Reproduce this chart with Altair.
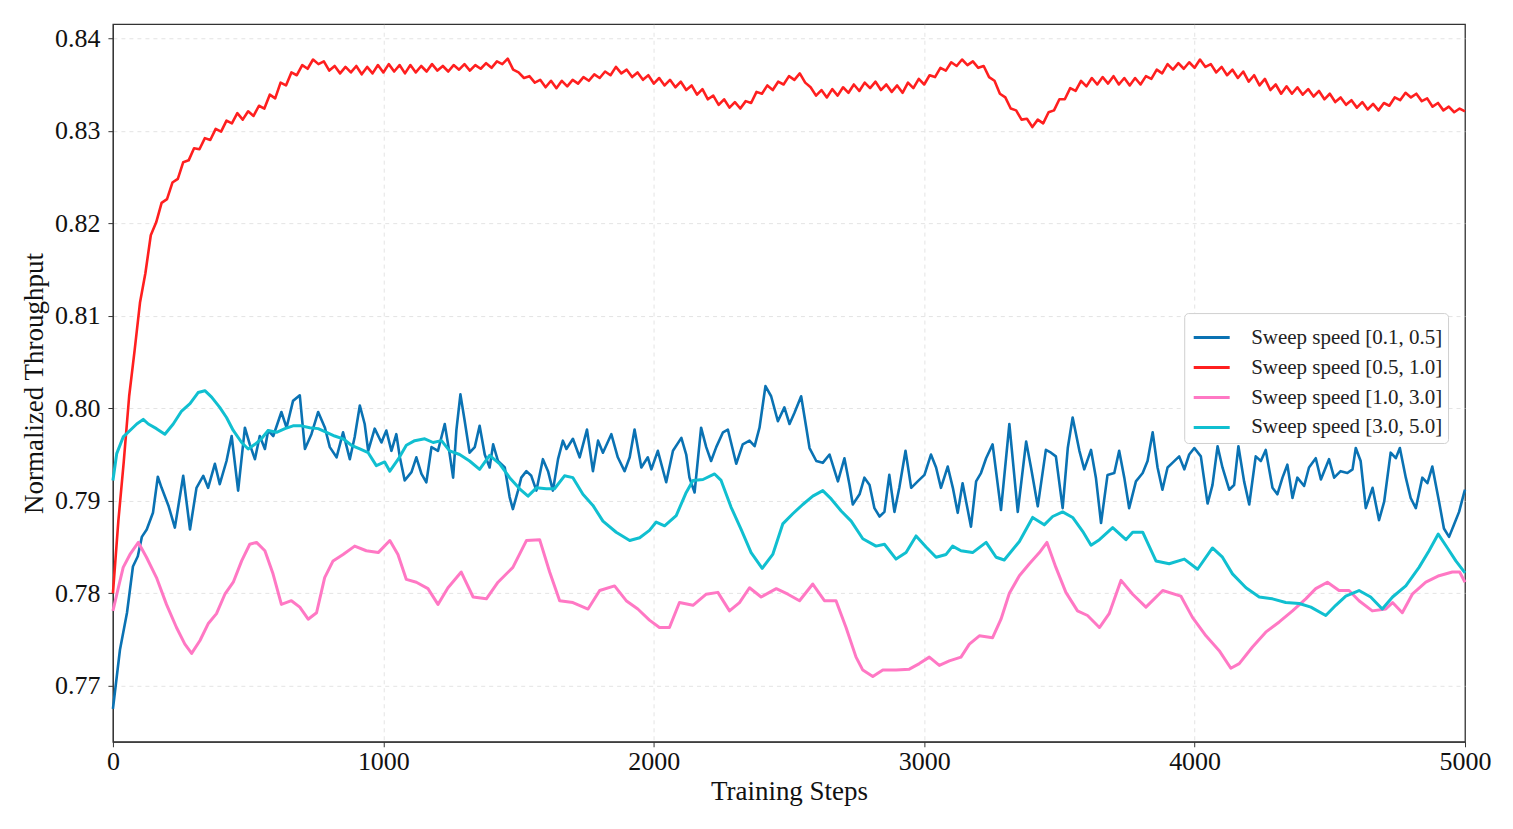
import altair as alt
import pandas as pd

SERIES = ["Sweep speed [0.1, 0.5]", "Sweep speed [0.5, 1.0]",
          "Sweep speed [1.0, 3.0]", "Sweep speed [3.0, 5.0]"]
COLORS = ["#0a72b3", "#ff1f1f", "#ff78c4", "#10bfd0"]

X_TICKS = [0, 1000, 2000, 3000, 4000, 5000]
Y_TICKS = [0.77, 0.78, 0.79, 0.80, 0.81, 0.82, 0.83, 0.84]

# ---- Sweep speed [0.1, 0.5] (blue)
blue_steps = [0, 26, 52, 74, 92, 107, 125, 148, 166, 180, 205, 229, 260, 285, 309, 334, 352, 377, 395, 420,
              439, 463, 488, 506, 525, 543, 562, 574, 593, 623, 642, 666, 691, 710, 734, 759, 784, 802, 827, 851,
              876, 894, 913, 931, 944, 968, 993, 1011, 1030, 1048, 1061, 1079, 1104, 1122, 1141, 1159, 1178, 1202, 1227, 1245,
              1258, 1270, 1285, 1301, 1319, 1338, 1356, 1375, 1393, 1406, 1424, 1449, 1467, 1479, 1498, 1510, 1529, 1547, 1566, 1590,
              1609, 1627, 1646, 1664, 1677, 1701, 1726, 1753, 1775, 1794, 1812, 1843, 1867, 1892, 1911, 1929, 1954, 1978, 1991, 2015,
              2046, 2071, 2102, 2120, 2132, 2151, 2175, 2194, 2212, 2231, 2256, 2274, 2305, 2329, 2354, 2373, 2391, 2413, 2434, 2459,
              2483, 2502, 2520, 2545, 2564, 2576, 2601, 2625, 2650, 2681, 2705, 2724, 2736, 2761, 2779, 2798, 2816, 2835, 2853, 2871,
              2890, 2908, 2931, 2952, 2976, 3001, 3025, 3044, 3062, 3087, 3106, 3124, 3142, 3173, 3192, 3210, 3229, 3253, 3284, 3315,
              3346, 3377, 3395, 3420, 3450, 3469, 3487, 3512, 3531, 3549, 3574, 3592, 3617, 3635, 3654, 3678, 3703, 3721, 3740, 3758,
              3783, 3808, 3826, 3845, 3863, 3881, 3900, 3918, 3943, 3962, 3980, 3999, 4023, 4048, 4066, 4085, 4103, 4128, 4146, 4162,
              4183, 4202, 4226, 4245, 4263, 4288, 4306, 4325, 4343, 4362, 4380, 4405, 4423, 4448, 4467, 4497, 4516, 4540, 4565, 4584,
              4596, 4614, 4633, 4658, 4682, 4701, 4725, 4744, 4759, 4781, 4799, 4818, 4842, 4861, 4879, 4904, 4922, 4941, 4959, 4978,
              4996, 5000]
blue_vals = [0.7675, 0.7739, 0.7779, 0.7829, 0.7840, 0.7861, 0.7869, 0.7887, 0.7926, 0.7914, 0.7895, 0.7871, 0.7927, 0.7869, 0.7914, 0.7927, 0.7914, 0.7940, 0.7918, 0.7943,
             0.7970, 0.7911, 0.7979, 0.7961, 0.7945, 0.7970, 0.7956, 0.7976, 0.7970, 0.7996, 0.7979, 0.8008, 0.8014, 0.7956, 0.7972, 0.7996, 0.7979, 0.7958, 0.7947, 0.7974,
             0.7945, 0.7969, 0.8003, 0.7983, 0.7954, 0.7978, 0.7963, 0.7976, 0.7954, 0.7972, 0.7947, 0.7922, 0.7931, 0.7947, 0.7929, 0.7920, 0.7958, 0.7954, 0.7983, 0.7951,
             0.7925, 0.7976, 0.8015, 0.7986, 0.7952, 0.7958, 0.7981, 0.7950, 0.7936, 0.7961, 0.7943, 0.7936, 0.7904, 0.7891, 0.7911, 0.7925, 0.7932, 0.7927, 0.7911, 0.7945,
             0.7932, 0.7911, 0.7945, 0.7965, 0.7956, 0.7967, 0.7947, 0.7977, 0.7932, 0.7965, 0.7952, 0.7972, 0.7947, 0.7932, 0.7947, 0.7977, 0.7936, 0.7947, 0.7934, 0.7954,
             0.7920, 0.7954, 0.7968, 0.7950, 0.7925, 0.7909, 0.7979, 0.7958, 0.7943, 0.7958, 0.7974, 0.7977, 0.7940, 0.7961, 0.7965, 0.7959, 0.7979, 0.8024, 0.8013, 0.7986,
             0.8001, 0.7983, 0.7995, 0.8013, 0.7979, 0.7957, 0.7943, 0.7941, 0.7950, 0.7921, 0.7946, 0.7917, 0.7896, 0.7907, 0.7925, 0.7917, 0.7892, 0.7883, 0.7888, 0.7928,
             0.7888, 0.7914, 0.7954, 0.7914, 0.7921, 0.7928, 0.7950, 0.7936, 0.7914, 0.7937, 0.7914, 0.7887, 0.7919, 0.7872, 0.7921, 0.7930, 0.7946, 0.7961, 0.7890, 0.7983,
             0.7888, 0.7964, 0.7936, 0.7894, 0.7955, 0.7952, 0.7948, 0.7892, 0.7957, 0.7990, 0.7954, 0.7934, 0.7955, 0.7925, 0.7876, 0.7928, 0.7930, 0.7954, 0.7925, 0.7892,
             0.7921, 0.7930, 0.7943, 0.7974, 0.7936, 0.7912, 0.7936, 0.7941, 0.7948, 0.7934, 0.7950, 0.7957, 0.7948, 0.7897, 0.7917, 0.7959, 0.7936, 0.7912, 0.7917, 0.7959,
             0.7921, 0.7896, 0.7948, 0.7943, 0.7955, 0.7914, 0.7907, 0.7925, 0.7939, 0.7903, 0.7925, 0.7916, 0.7936, 0.7946, 0.7923, 0.7945, 0.7925, 0.7932, 0.7930, 0.7934,
             0.7957, 0.7943, 0.7892, 0.7914, 0.7879, 0.7899, 0.7952, 0.7946, 0.7957, 0.7925, 0.7903, 0.7892, 0.7925, 0.7919, 0.7937, 0.7899, 0.7870, 0.7861, 0.7874, 0.7888,
             0.7908, 0.7912]

# ---- Sweep speed [0.5, 1.0] (red), sampled every 20 steps
red_steps = list(range(0, 5001, 20))
red_vals = [0.7800, 0.7878, 0.7942, 0.8013, 0.8062, 0.8114, 0.8146, 0.8187, 0.8201, 0.8222,
            0.8226, 0.8244, 0.8248, 0.8266, 0.8268, 0.8281, 0.8280, 0.8292, 0.8290, 0.8302,
            0.8299, 0.8311, 0.8308, 0.8319, 0.8312, 0.8321, 0.8316, 0.8327, 0.8324, 0.8339,
            0.8335, 0.8352, 0.8349, 0.8363, 0.8360, 0.8371, 0.8367, 0.8377, 0.8372, 0.8375,
            0.8365, 0.8370, 0.8362, 0.8369, 0.8363, 0.8370, 0.8361, 0.8369, 0.8362, 0.8371,
            0.8363, 0.8372, 0.8364, 0.8371, 0.8362, 0.8371, 0.8363, 0.8370, 0.8364, 0.8372,
            0.8365, 0.8370, 0.8364, 0.8371, 0.8366, 0.8372, 0.8365, 0.8371, 0.8367, 0.8373,
            0.8368, 0.8375, 0.8372, 0.8378, 0.8366, 0.8363, 0.8357, 0.8359, 0.8352, 0.8355,
            0.8347, 0.8354, 0.8346, 0.8354, 0.8348, 0.8355, 0.8351, 0.8358, 0.8354, 0.8361,
            0.8357, 0.8364, 0.8360, 0.8369, 0.8362, 0.8366, 0.8358, 0.8363, 0.8355, 0.8360,
            0.8351, 0.8357, 0.8349, 0.8355, 0.8347, 0.8353, 0.8344, 0.8349, 0.8339, 0.8345,
            0.8334, 0.8338, 0.8328, 0.8334, 0.8325, 0.8331, 0.8324, 0.8332, 0.8330, 0.8342,
            0.8340, 0.8349, 0.8344, 0.8353, 0.8350, 0.8359, 0.8355, 0.8362, 0.8352, 0.8347,
            0.8338, 0.8344, 0.8336, 0.8345, 0.8338, 0.8347, 0.8341, 0.8350, 0.8343, 0.8352,
            0.8346, 0.8353, 0.8344, 0.8350, 0.8342, 0.8349, 0.8341, 0.8352, 0.8346, 0.8356,
            0.8350, 0.8360, 0.8358, 0.8368, 0.8365, 0.8374, 0.8370, 0.8377, 0.8371, 0.8375,
            0.8368, 0.8370, 0.8358, 0.8354, 0.8340, 0.8336, 0.8324, 0.8322, 0.8312, 0.8313,
            0.8304, 0.8312, 0.8308, 0.8320, 0.8322, 0.8334, 0.8334, 0.8346, 0.8343, 0.8354,
            0.8348, 0.8357, 0.8350, 0.8358, 0.8351, 0.8359, 0.8350, 0.8357, 0.8349, 0.8357,
            0.8350, 0.8359, 0.8356, 0.8366, 0.8362, 0.8372, 0.8366, 0.8373, 0.8367, 0.8374,
            0.8368, 0.8377, 0.8369, 0.8372, 0.8363, 0.8369, 0.8360, 0.8366, 0.8357, 0.8364,
            0.8353, 0.8360, 0.8349, 0.8356, 0.8344, 0.8350, 0.8340, 0.8348, 0.8340, 0.8347,
            0.8339, 0.8345, 0.8337, 0.8343, 0.8334, 0.8340, 0.8331, 0.8336, 0.8328, 0.8333,
            0.8325, 0.8331, 0.8323, 0.8329, 0.8322, 0.8330, 0.8327, 0.8336, 0.8333, 0.8341,
            0.8336, 0.8340, 0.8332, 0.8335, 0.8326, 0.8330, 0.8322, 0.8326, 0.8320, 0.8324,
            0.8321]

# ---- Sweep speed [1.0, 3.0] (pink)
pink_steps = [0, 20, 38, 63, 94, 124, 161, 198, 235, 266, 291, 322, 352, 383, 414, 445, 476, 506, 531, 562,
              592, 623, 660, 691, 722, 753, 783, 814, 851, 894, 937, 981, 1024, 1054, 1085, 1122, 1165, 1202, 1239, 1288,
              1332, 1381, 1424, 1479, 1529, 1578, 1615, 1652, 1701, 1757, 1800, 1855, 1898, 1941, 1984, 2021, 2058, 2095, 2145, 2194,
              2237, 2280, 2317, 2354, 2397, 2453, 2496, 2539, 2588, 2631, 2674, 2711, 2748, 2773, 2810, 2847, 2896, 2945, 2982, 3019,
              3056, 3093, 3136, 3167, 3204, 3253, 3284, 3315, 3352, 3389, 3426, 3454, 3487, 3524, 3567, 3604, 3648, 3684, 3728, 3771,
              3820, 3882, 3949, 3992, 4042, 4091, 4134, 4165, 4214, 4263, 4313, 4362, 4411, 4448, 4491, 4534, 4571, 4608, 4657, 4707,
              4732, 4768, 4805, 4855, 4904, 4953, 4980, 5000]
pink_vals = [0.7781, 0.7806, 0.7828, 0.7842, 0.7855, 0.7839, 0.7817, 0.7788, 0.7763, 0.7745, 0.7735, 0.7749, 0.7767, 0.7778, 0.7799, 0.7812, 0.7835, 0.7853, 0.7855, 0.7846,
             0.7821, 0.7788, 0.7792, 0.7785, 0.7772, 0.7779, 0.7817, 0.7835, 0.7842, 0.7851, 0.7846, 0.7844, 0.7857, 0.7842, 0.7815, 0.7812, 0.7805, 0.7788, 0.7806, 0.7823,
             0.7796, 0.7794, 0.7812, 0.7828, 0.7857, 0.7858, 0.7823, 0.7792, 0.7790, 0.7783, 0.7803, 0.7808, 0.7792, 0.7783, 0.7771, 0.7763, 0.7763, 0.7790, 0.7787, 0.7799,
             0.7801, 0.7781, 0.7790, 0.7806, 0.7796, 0.7805, 0.7799, 0.7792, 0.7810, 0.7792, 0.7792, 0.7763, 0.7731, 0.7717, 0.7710, 0.7717, 0.7717, 0.7718, 0.7724, 0.7731,
             0.7722, 0.7727, 0.7731, 0.7745, 0.7754, 0.7752, 0.7772, 0.7800, 0.7819, 0.7832, 0.7844, 0.7855, 0.7828, 0.7801, 0.7781, 0.7776, 0.7763, 0.7778, 0.7814, 0.7799,
             0.7785, 0.7803, 0.7797, 0.7774, 0.7754, 0.7738, 0.7719, 0.7724, 0.7742, 0.7758, 0.7769, 0.7781, 0.7794, 0.7805, 0.7812, 0.7803, 0.7803, 0.7792, 0.7781, 0.7783,
             0.7790, 0.7779, 0.7799, 0.7812, 0.7819, 0.7823, 0.7823, 0.7812]

# ---- Sweep speed [3.0, 5.0] (cyan)
cyan_steps = [0, 14, 38, 63, 88, 112, 131, 161, 192, 223, 254, 285, 315, 340, 365, 395, 420, 445, 476, 500,
              525, 549, 574, 605, 636, 666, 697, 728, 759, 790, 820, 851, 882, 913, 944, 974, 1005, 1024, 1055, 1085,
              1116, 1153, 1184, 1215, 1245, 1282, 1319, 1356, 1393, 1430, 1467, 1504, 1535, 1566, 1603, 1633, 1670, 1701, 1738, 1775,
              1812, 1861, 1911, 1948, 1984, 2009, 2040, 2083, 2120, 2145, 2182, 2225, 2249, 2286, 2323, 2360, 2401, 2440, 2477, 2514,
              2551, 2588, 2625, 2656, 2693, 2730, 2773, 2822, 2853, 2896, 2933, 2970, 3007, 3044, 3081, 3105, 3136, 3179, 3229, 3266,
              3296, 3352, 3401, 3444, 3475, 3512, 3549, 3586, 3617, 3648, 3697, 3746, 3771, 3808, 3857, 3906, 3962, 4011, 4066, 4103,
              4140, 4190, 4239, 4288, 4337, 4387, 4430, 4485, 4522, 4559, 4608, 4651, 4694, 4732, 4781, 4830, 4867, 4901, 4935, 4966,
              5000]
cyan_vals = [0.7922, 0.7951, 0.7969, 0.7976, 0.7983, 0.7988, 0.7983, 0.7978, 0.7972, 0.7983, 0.7997, 0.8005, 0.8017, 0.8019, 0.8012, 0.8001, 0.7990, 0.7976, 0.7963, 0.7956,
             0.7961, 0.7967, 0.7976, 0.7974, 0.7978, 0.7981, 0.7981, 0.7979, 0.7978, 0.7974, 0.7970, 0.7967, 0.7960, 0.7956, 0.7952, 0.7938, 0.7942, 0.7932, 0.7945, 0.7960,
             0.7965, 0.7967, 0.7963, 0.7965, 0.7954, 0.7950, 0.7943, 0.7934, 0.7949, 0.7940, 0.7925, 0.7913, 0.7905, 0.7914, 0.7913, 0.7913, 0.7927, 0.7925, 0.7907, 0.7895,
             0.7878, 0.7866, 0.7857, 0.7860, 0.7868, 0.7877, 0.7873, 0.7884, 0.7909, 0.7922, 0.7923, 0.7929, 0.7922, 0.7893, 0.7869, 0.7844, 0.7827, 0.7842, 0.7875, 0.7886,
             0.7896, 0.7905, 0.7911, 0.7902, 0.7889, 0.7878, 0.7859, 0.7851, 0.7853, 0.7837, 0.7844, 0.7862, 0.7850, 0.7839, 0.7842, 0.7851, 0.7846, 0.7844, 0.7855, 0.7839,
             0.7836, 0.7856, 0.7882, 0.7874, 0.7883, 0.7888, 0.7882, 0.7867, 0.7852, 0.7858, 0.7871, 0.7858, 0.7866, 0.7866, 0.7835, 0.7832, 0.7837, 0.7826, 0.7849, 0.7839,
             0.7821, 0.7806, 0.7796, 0.7794, 0.7790, 0.7789, 0.7785, 0.7776, 0.7787, 0.7797, 0.7803, 0.7796, 0.7783, 0.7796, 0.7808, 0.7828, 0.7846, 0.7864, 0.7849, 0.7835,
             0.7822]

series_data = [(SERIES[0], blue_steps, blue_vals, 2.6),
               (SERIES[1], red_steps, red_vals, 2.6),
               (SERIES[2], pink_steps, pink_vals, 3.0),
               (SERIES[3], cyan_steps, cyan_vals, 3.0)]

FONT = "Liberation Serif"
GRID_COLOR = {"condition": {"test": "datum.value == 0 || datum.value == 5000", "value": "transparent"},
              "value": "#dcdcdc"}

x_enc = alt.X("step:Q",
              scale=alt.Scale(domain=[0, 5000], nice=False, zero=False),
              axis=alt.Axis(values=X_TICKS, format="d", title="Training Steps",
                            labelFontSize=26, titleFontSize=27, labelPadding=2,
                            titlePadding=4, tickSize=5, grid=True, labelFlush=False,
                            gridColor=GRID_COLOR))
y_enc = alt.Y("value:Q",
              scale=alt.Scale(domain=[0.76395, 0.84151], nice=False, zero=False),
              axis=alt.Axis(values=Y_TICKS, format=".2f", title="Normalized Throughput",
                            labelFontSize=26, titleFontSize=27, labelPadding=8,
                            titlePadding=6, tickSize=5, grid=True, labelFlush=False))
color_enc = alt.Color("series:N",
                      scale=alt.Scale(domain=SERIES, range=COLORS),
                      legend=alt.Legend(orient="none", legendX=1072, legendY=289, title=None,
                                        symbolType="stroke", symbolSize=1296, symbolStrokeWidth=3,
                                        symbolOffset=3, labelLimit=0,
                                        labelFont=FONT, labelFontSize=21, labelColor="#222",
                                        labelOffset=20, fillColor="white", strokeColor="#d0d0d0",
                                        cornerRadius=4, padding=5, rowPadding=-9))

layers = []
for name, xs, ys, sw in series_data:
    df = pd.DataFrame({"step": xs, "value": ys, "series": name})
    layers.append(alt.Chart(df).mark_line(strokeWidth=sw, strokeJoin="round")
                  .encode(x=x_enc, y=y_enc, color=color_enc))

chart = alt.layer(*layers).properties(
    width=1353, height=718,
    autosize=alt.AutoSizeParams(type="none"),
    padding={"left": 105, "top": 16, "right": 40, "bottom": 70},
).configure(font=FONT).configure_view(
    stroke="#333", strokeWidth=1.3
).configure_axis(
    labelFont=FONT, titleFont=FONT, labelColor="#111", titleColor="#111",
    titleFontWeight="normal", domainColor="#333", tickColor="#333",
    gridDash=[4, 4], gridWidth=0.8
)

chart.save("out.html", embed_options={"renderer": "svg", "actions": False})
